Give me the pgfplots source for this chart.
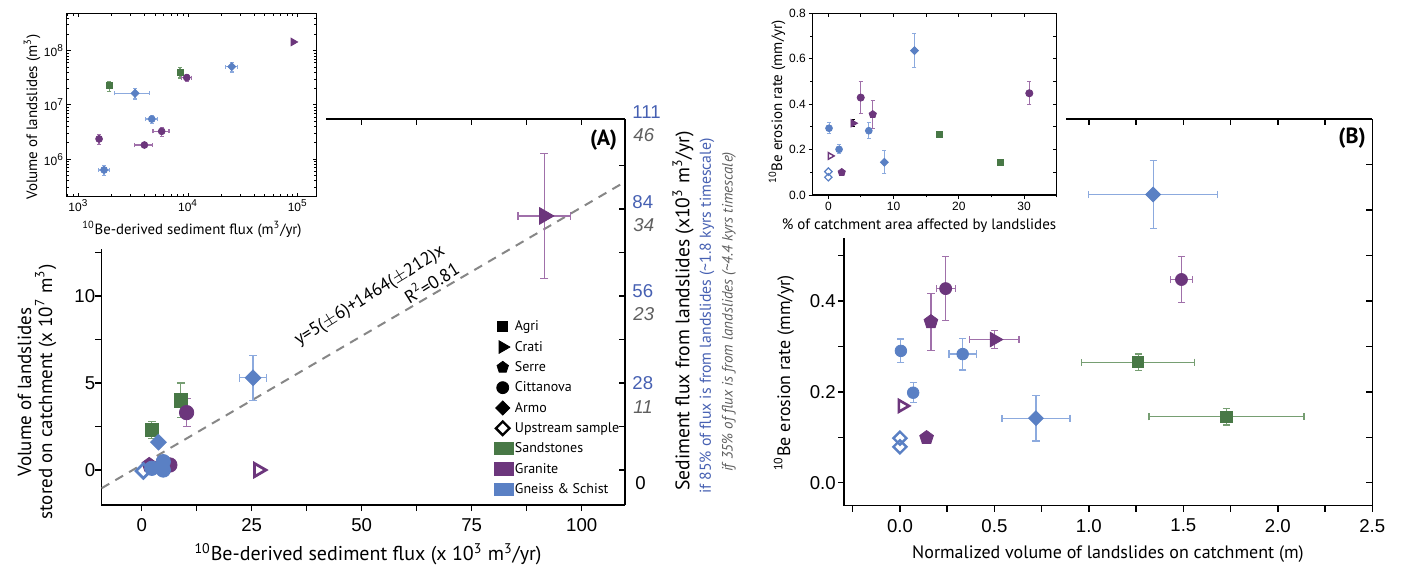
\documentclass[border=0pt]{standalone}
\usepackage{fontspec}
\setmainfont{Liberation Sans}
\newfontfamily\myr{PT Sans}
\usepackage{pgfplots}
\pgfplotsset{compat=1.18}

\definecolor{cgreen}{RGB}{72,120,70}
\definecolor{cgreenL}{RGB}{118,158,114}
\definecolor{cpurp}{RGB}{108,54,124}
\definecolor{cpurpL}{RGB}{160,112,170}
\definecolor{cblue}{RGB}{90,128,196}
\definecolor{cblueL}{RGB}{140,170,222}
\definecolor{cfit}{RGB}{135,135,135}
\definecolor{txtblue}{RGB}{70,96,178}
\definecolor{txtgray}{RGB}{95,95,95}

\newcommand{\fs}[1]{\fontsize{#1}{#1}\selectfont}

\pgfplotsset{
  mainax/.style={scale only axis, anchor=south west,
    axis line style={line width=0.75pt}, tick style={line width=0.75pt, black},
    major tick length=3pt, minor tick length=3pt,
    tick label style={font=\fs{9.3}, inner sep=1pt},
    /pgf/number format/assume math mode=true},
  insetax/.style={scale only axis, anchor=south west,
    axis line style={line width=0.6pt}, tick style={line width=0.5pt, black},
    major tick length=2pt, minor tick length=1.2pt,
    tick label style={font=\fs{6}, inner sep=1.2pt},
    /pgf/number format/assume math mode=true},
  eb/.style 2 args={error bars/x dir=both, error bars/x explicit,
    error bars/y dir=both, error bars/y explicit,
    error bars/error bar style={#1, line width=0.6pt},
    error bars/error mark options={rotate=90, #1, line width=0.6pt, mark size=#2}},
  eby/.style 2 args={error bars/y dir=both, error bars/y explicit,
    error bars/error bar style={#1, line width=0.5pt},
    error bars/error mark options={rotate=90, #1, line width=0.5pt, mark size=#2}},
  pts/.style={only marks, forget plot},
  legmark/.style={legend image code/.code={
      \draw[##1] plot coordinates {(3.6pt,0pt)};}},
  legrect/.style={legend image code/.code={
      \fill[##1] (-0.5pt,-3.1pt) rectangle (9pt,3.1pt);}},
  geoA/.style={at={(50.75pt,29.5pt)}, width=261.75pt, height=193pt,
    xmin=-9.14, xmax=109.84, ymin=-2.01, ymax=20.17},
  geoB/.style={at={(422pt,29.15pt)}, width=264.15pt, height=193.35pt,
    xmin=-0.296, xmax=2.5, ymin=-0.0505, ymax=0.8},
  geoIA/.style={at={(33.35pt,183.65pt)}, width=125pt, height=91.7pt,
    xmin=783, xmax=1.49e5, ymin=2.04e5, ymax=4.9e8},
  geoIB/.style={at={(406.35pt,184.5pt)}, width=122pt, height=90.85pt,
    xmin=-2.4, xmax=35, ymin=0, ymax=0.8},
}

\begin{document}
\begin{tikzpicture}
\useasboundingbox (0pt,0pt) rectangle (703.5pt,282pt);

% ---------- panel A
\begin{axis}[mainax, geoA, axis x line*=bottom, axis y line*=left, tick align=outside,
  xtick={0,12.5,...,100}, xticklabels={0,,25,,50,,75,,100},
  ytick={0,2.5,...,12.5}, yticklabels={0,,5,,10,},
  xticklabel shift=2.5pt, yticklabel shift=-1pt,
  legend cell align=left,
  legend style={at={(0.75,0.482)}, anchor=north west, draw=none, fill=none,
    inner sep=0pt, outer sep=0pt,
    font=\myr\fs{7}, /tikz/row sep=2.35pt, /tikz/column sep=0.5pt,
    nodes={inner sep=0pt, text height=6pt, text depth=1.8pt}}]
\addlegendimage{legmark, only marks, mark=square*, black, mark size=2.5pt}
\addlegendentry{Agri}
\addlegendimage{legmark, only marks, mark=triangle*, mark options={rotate=-90}, black, mark size=3.6pt}
\addlegendentry{Crati}
\addlegendimage{legmark, only marks, mark=pentagon*, black, mark size=3pt}
\addlegendentry{Serre}
\addlegendimage{legmark, only marks, mark=*, black, mark size=3pt}
\addlegendentry{Cittanova}
\addlegendimage{legmark, only marks, mark=square*, mark options={rotate=45}, black, mark size=2.5pt}
\addlegendentry{Armo}
\addlegendimage{legmark, only marks, mark=square, mark options={rotate=45, fill=white, line width=1.2pt}, black, mark size=2.4pt}
\addlegendentry{Upstream sample}
\addlegendimage{legrect, cgreen}
\addlegendentry{Sandstones}
\addlegendimage{legrect, cpurp}
\addlegendentry{Granite}
\addlegendimage{legrect, cblue}
\addlegendentry{Gneiss \& Schist}

% linear fit
\addplot[cfit, line width=1pt, dash pattern=on 4.5pt off 3.5pt, forget plot]
  coordinates {(-9.14,-1.05) (109.84,16.56)};

% Agri
\addplot[pts, mark=square*, mark size=3.3pt, cgreen, eb={cgreenL}{2pt}]
  coordinates {(2.3,2.3) +- (0,0.5) (8.9,4.0) +- (0,1.0)};
% Serre
\addplot[pts, mark=pentagon*, mark size=3.8pt, cpurp]
  coordinates {(1.7,0.29) (4.0,0.18)};
% Cittanova, granite
\addplot[pts, mark=*, mark size=3.6pt, cpurp, eb={cpurpL}{2pt}]
  coordinates {(10.2,3.3) +- (0,0.8) (6.4,0.29) +- (0,0)};
% Crati
\addplot[pts, mark=triangle*, mark size=4.8pt, mark options={rotate=-90}, cpurp, eb={cpurpL}{2pt}]
  coordinates {(91.5,14.6) +- (6,3.6)};
\addplot[pts, mark=triangle, mark size=3.8pt, mark options={rotate=-90, fill=white, line width=1.4pt}, cpurp]
  coordinates {(26.5,0)};
% Cittanova, gneiss
\addplot[pts, mark=*, mark size=3.6pt, cblue]
  coordinates {(2.3,0.1) (4.9,0.48) (4.9,0.0)};
% Armo
\addplot[pts, mark=square*, mark size=2.8pt, mark options={rotate=45}, cblue, eb={cblueL}{2pt}]
  coordinates {(3.8,1.6) +- (0,0) (25.3,5.3) +- (3,1.3)};
% upstream
\addplot[pts, mark=square, mark size=2.6pt, mark options={rotate=45, fill=white, line width=1.4pt}, cblue]
  coordinates {(0.4,-0.05)};
\end{axis}
\begin{axis}[mainax, geoA, axis x line*=top, axis y line*=right, tick align=inside,
  xtick={0,12.5,...,100}, ytick={0,2.5,...,17.5}, xticklabels={}, yticklabels={}]
\end{axis}

% ---------- panel B
\begin{axis}[mainax, geoB, axis x line*=bottom, axis y line*=left, tick align=outside,
  xtick={-0.25,0,0.25,...,2.5}, xticklabels={,0.0,,0.5,,1.0,,1.5,,2.0,,2.5},
  ytick={0,0.1,...,0.5}, yticklabels={0.0,,0.2,,0.4,},
  xticklabel shift=2.5pt]
% Agri
\addplot[pts, mark=square*, mark size=2.8pt, cgreen, eb={cgreenL}{1.8pt}]
  coordinates {(1.261,0.265) +- (0.30,0.018) (1.728,0.145) +- (0.41,0.018)};
% Serre
\addplot[pts, mark=pentagon*, mark size=3.6pt, cpurp, eb={cpurpL}{1.8pt}]
  coordinates {(0.164,0.354) +- (0,0.063) (0.141,0.099) +- (0,0)};
% Cittanova, granite
\addplot[pts, mark=*, mark size=3pt, cpurp, eb={cpurpL}{1.8pt}]
  coordinates {(0.242,0.427) +- (0.05,0.07) (1.490,0.447) +- (0.06,0.05)};
% Crati
\addplot[pts, mark=triangle*, mark size=4.2pt, mark options={rotate=-90}, cpurp, eb={cpurpL}{1.8pt}]
  coordinates {(0.50,0.315) +- (0.13,0.02)};
\addplot[pts, mark=triangle, mark size=3.4pt, mark options={rotate=-90, fill=white, line width=1.3pt}, cpurp]
  coordinates {(0.012,0.169)};
% Cittanova, gneiss
\addplot[pts, mark=*, mark size=2.9pt, cblue, eb={cblueL}{1.8pt}]
  coordinates {(0.005,0.29) +- (0,0.026) (0.332,0.283) +- (0.072,0.035) (0.070,0.198) +- (0,0.022)};
% Armo
\addplot[pts, mark=square*, mark size=2.6pt, mark options={rotate=45}, cblue, eb={cblueL}{1.8pt}]
  coordinates {(0.720,0.142) +- (0.18,0.05) (1.340,0.634) +- (0.34,0.075)};
% upstream
\addplot[pts, mark=square, mark size=2.3pt, mark options={rotate=45, fill=white, line width=1.2pt}, cblue]
  coordinates {(0,0.098) (0,0.079)};
\end{axis}
\begin{axis}[mainax, geoB, axis x line*=top, axis y line*=right, tick align=inside,
  xtick={0,0.25,...,2.25}, ytick={0,0.1,...,0.7}, xticklabels={}, yticklabels={}]
\end{axis}

% white room for the insets
\fill[white] (20pt,157.5pt) rectangle (163pt,282pt);
\fill[white] (398pt,163pt) rectangle (533pt,282pt);

% ---------- inset A
\begin{loglogaxis}[insetax, geoIA, tick align=inside,
  xtick={1e3,1e4,1e5}, ytick={1e6,1e7,1e8},
  xticklabels={10\textsuperscript{3},10\textsuperscript{4},10\textsuperscript{5}},
  yticklabels={10\textsuperscript{6},10\textsuperscript{7},10\textsuperscript{8}},
  minor xtick={800,900,2e3,3e3,4e3,5e3,6e3,7e3,8e3,9e3,2e4,3e4,4e4,5e4,6e4,7e4,8e4,9e4},
  minor ytick={3e5,4e5,5e5,6e5,7e5,8e5,9e5,2e6,3e6,4e6,5e6,6e6,7e6,8e6,9e6,
    2e7,3e7,4e7,5e7,6e7,7e7,8e7,9e7,2e8,3e8,4e8}]
\addplot[pts, mark=square*, mark size=1.5pt, cgreen, eb={cgreenL}{1pt}]
  coordinates {(1920,2.27e7) +- (0,0.47e7) (8450,4.0e7) +- (0,0.85e7)};
\addplot[pts, mark=*, mark size=1.7pt, cpurp, eb={cpurpL}{1pt}]
  coordinates {(9730,3.2e7) +- (1000,0.5e7) (5750,3.27e6) +- (960,0.6e6)
    (4000,1.83e6) +- (745,0.2e6) (1545,2.37e6) +- (0,0.5e6)};
\addplot[pts, mark=triangle*, mark size=2.2pt, mark options={rotate=-90}, cpurp]
  coordinates {(91000,1.45e8)};
\addplot[pts, mark=*, mark size=1.7pt, cblue, eb={cblueL}{1pt}]
  coordinates {(4670,5.5e6) +- (575,1.0e6) (1715,6.35e5) +- (200,1.4e5)};
\addplot[pts, mark=square*, mark size=1.4pt, mark options={rotate=45}, cblue, eb={cblueL}{1pt}]
  coordinates {(3290,1.64e7) +- (1160,0.35e7) (25000,5.1e7) +- (3200,1.05e7)};
\end{loglogaxis}

% ---------- inset B
\begin{axis}[insetax, geoIB, axis x line*=bottom, axis y line*=left, tick align=outside,
  xtick={0,10,20,30}, minor xtick={5,15,25,35},
  ytick={0,0.2,...,0.8}, minor ytick={0.1,0.3,0.5,0.7},
  yticklabel style={/pgf/number format/.cd, fixed, fixed zerofill, precision=1}]
\addplot[pts, mark=square*, mark size=1.5pt, cgreen]
  coordinates {(16.95,0.267) (26.4,0.145)};
\addplot[pts, mark=pentagon*, mark size=1.9pt, cpurp, eby={cpurpL}{1pt}]
  coordinates {(6.8,0.355) +- (0,0.063) (2.05,0.10) +- (0,0)};
\addplot[pts, mark=*, mark size=1.8pt, cpurp, eby={cpurpL}{1pt}]
  coordinates {(4.96,0.429) +- (0,0.07) (30.8,0.448) +- (0,0.05)};
\addplot[pts, mark=triangle*, mark size=2.2pt, mark options={rotate=-90}, cpurp, eby={black}{0.8pt}]
  coordinates {(3.8,0.316) +- (0,0.015)};
\addplot[pts, mark=triangle, mark size=1.9pt, mark options={rotate=-90, fill=white, line width=0.7pt}, cpurp]
  coordinates {(0.3,0.172)};
\addplot[pts, mark=*, mark size=1.7pt, cblue, eby={cblueL}{1pt}]
  coordinates {(0.1,0.294) +- (0,0.025) (6.2,0.283) +- (0,0.035) (1.64,0.201) +- (0,0.02)};
\addplot[pts, mark=square*, mark size=1.4pt, mark options={rotate=45}, cblue, eby={cblueL}{1pt}]
  coordinates {(13.2,0.636) +- (0,0.075) (8.58,0.144) +- (0,0.05)};
\addplot[pts, mark=square, mark size=1.3pt, mark options={rotate=45, fill=white, line width=0.6pt}, cblue]
  coordinates {(0,0.103) (0,0.078)};
\end{axis}
\begin{axis}[insetax, geoIB, axis x line*=top, axis y line*=right, tick align=inside,
  xtick={0,5,...,35}, ytick={0,0.1,...,0.8}, xticklabels={}, yticklabels={}]
\end{axis}

% ---------- text
\begin{scope}[font=\myr]
\node[rotate=90, align=center, font=\myr\fs{9.5}] at (18.5pt,86pt)
  {Volume of landslides\\[1pt] stored on catchment (x 10\textsuperscript{7} m\textsuperscript{3})};
\node[font=\myr\fs{10}] at (184pt,5pt)
  {\textsuperscript{10}Be-derived sediment flux (x 10\textsuperscript{3} m\textsuperscript{3}/yr)};
\node[font=\myr\fs{9}] at (554pt,5pt) {Normalized volume of landslides on catchment (m)};
\node[rotate=90, font=\myr\fs{9}] at (392pt,95.5pt) {\textsuperscript{10}Be erosion rate (mm/yr)};
\node[rotate=90, font=\myr\fs{7.5}] at (16pt,223.5pt) {Volume of landslides (m\textsuperscript{3})};
\node[font=\myr\fs{7.4}] at (96pt,167.5pt) {\textsuperscript{10}Be-derived sediment flux (m\textsuperscript{3}/yr)};
\node[rotate=90, font=\myr\fs{7.5}] at (388.5pt,231pt) {\textsuperscript{10}Be erosion rate (mm/yr)};
\node[font=\myr\fs{7.5}] at (459.5pt,169pt) {\% of catchment area affected by landslides};
\node[font=\myr\bfseries\fs{11}] at (301.75pt,212pt) {(A)};
\node[font=\myr\bfseries\fs{11}] at (676pt,213pt) {(B)};
\node[rotate=32, font=\myr\fs{9}, inner sep=0pt] at (185pt,134pt) {y=5($\pm$6)+1464($\pm$212)x};
\node[rotate=32, font=\myr\fs{9}, inner sep=0pt] at (215.5pt,141pt) {R\textsuperscript{2}=0.81};
% right-hand scale of A
\node[rotate=90, font=\myr\fs{9.8}, inner sep=0pt] at (341.5pt,126.5pt)
  {Sediment flux from landslides (x10\textsuperscript{3} m\textsuperscript{3}/yr)};
\node[rotate=90, font=\myr\fs{7.9}, txtblue, inner sep=0pt] at (353.5pt,124pt)
  {if 85\% of flux is from landslides (\textasciitilde 1.8 kyrs timescale)};
\node[rotate=90, font=\myr\itshape\fs{7.5}, txtgray, inner sep=0pt] at (364.5pt,126pt)
  {if 35\% of flux is from landslides (\textasciitilde 4.4 kyrs timescale)};
\end{scope}
\begin{scope}[font=\fs{9.3}, anchor=west, inner sep=0pt]
\node[txtblue] at (316pt,226pt) {111};
\node[txtgray, font=\itshape\fs{9.3}] at (316.5pt,214.5pt) {46};
\node[txtblue] at (316pt,181pt) {84};
\node[txtgray, font=\itshape\fs{9.3}] at (316.5pt,169.5pt) {34};
\node[txtblue] at (316pt,136.5pt) {56};
\node[txtgray, font=\itshape\fs{9.3}] at (316.5pt,125pt) {23};
\node[txtblue] at (316pt,90.5pt) {28};
\node[txtgray, font=\itshape\fs{9.3}] at (316.5pt,78.5pt) {11};
\node at (317.5pt,40.5pt) {0};
\end{scope}
\end{tikzpicture}
\end{document}
